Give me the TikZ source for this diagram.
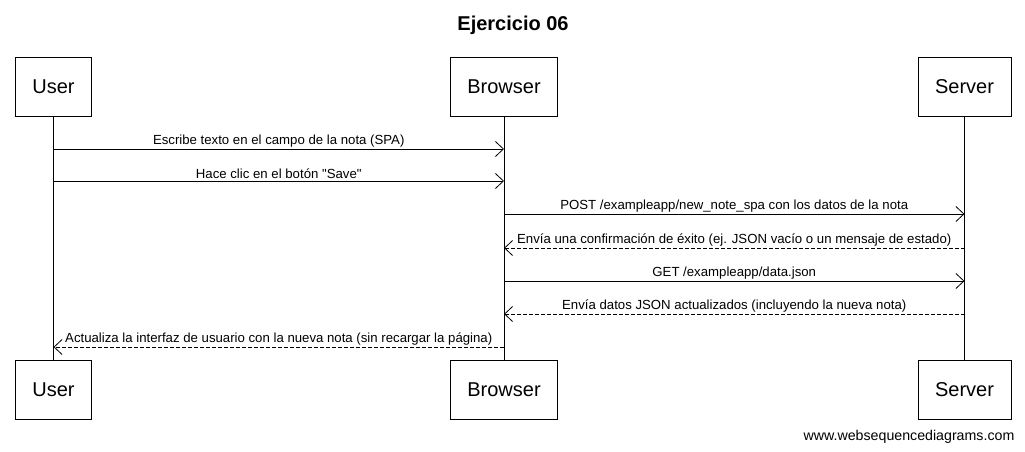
\documentclass[tikz,border=0pt]{standalone}
\usepackage{fontspec}
\setmainfont{Liberation Sans}
\usetikzlibrary{arrows.meta}
\tikzstyle{actor} = [rectangle, draw=black, line width=0.8pt, minimum height=59pt, inner xsep=17pt, font=\fontsize{20}{24}\selectfont]
\tikzstyle{msg} = [line width=0.8pt, -{Straight Barb[length=8pt,width=15pt]}]
\tikzstyle{reply} = [msg, dash pattern=on 4pt off 2pt]
\tikzstyle{lbl} = [above, inner sep=1.5pt, font=\fontsize{13.2}{15}\selectfont]

\begin{document}
\begin{tikzpicture}[x=1pt, y=-1pt]
		\useasboundingbox (0,0) rectangle (1025,452);
		\node (title) at (513,25) {\fontsize{20}{24}\selectfont\bfseries Ejercicio 06};
		\node (user) [actor] at (53.5,86.5) {User};
		\node (browser) [actor] at (504,86.5) {Browser};
		\node (server) [actor] at (964.5,86.5) {Server};
		\node (userb) [actor] at (53.5,390) {User};
		\node (browserb) [actor] at (504,390) {Browser};
		\node (serverb) [actor] at (964.5,390) {Server};
		\draw [line width=0.8pt] (user) -- (userb);
		\draw [line width=0.8pt] (browser) -- (browserb);
		\draw [line width=0.8pt] (server) -- (serverb);
		\draw [msg] (user |- 0,149) -- node[lbl] {Escribe texto en el campo de la nota (SPA)} (browser |- 0,149);
		\draw [msg] (user |- 0,181) -- node[lbl] {Hace clic en el botón \textquotedbl Save\textquotedbl} (browser |- 0,181);
		\draw [msg] (browser |- 0,214) -- node[lbl] {POST /exampleapp/new\_note\_spa con los datos de la nota} (server |- 0,214);
		\draw [reply] (server |- 0,248) -- node[lbl] {Envía una confirmación de éxito (ej. JSON vacío o un mensaje de estado)} (browser |- 0,248);
		\draw [msg] (browser |- 0,281) -- node[lbl] {GET /exampleapp/data.json} (server |- 0,281);
		\draw [reply] (server |- 0,314) -- node[lbl] {Envía datos JSON actualizados (incluyendo la nueva nota)} (browser |- 0,314);
		\draw [reply] (browser |- 0,347) -- node[lbl] {Actualiza la interfaz de usuario con la nueva nota (sin recargar la página)} (user |- 0,347);
		\node (footer) at (909,437) {\fontsize{14.2}{17}\selectfont www.websequencediagrams.com};
	\end{tikzpicture}
\end{document}
